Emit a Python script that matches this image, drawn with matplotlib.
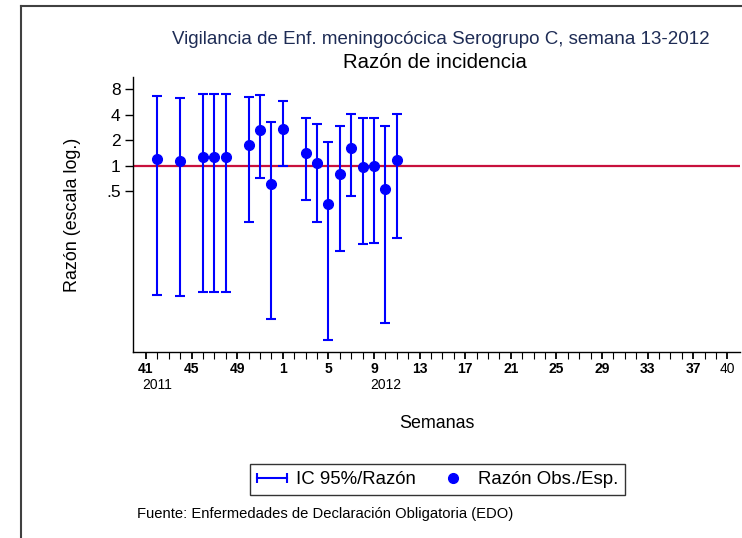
import matplotlib
matplotlib.use("Agg")
import matplotlib.pyplot as plt
from matplotlib.lines import Line2D
from matplotlib.legend_handler import HandlerLine2D

plt.rcParams["font.family"] = ["Liberation Sans", "DejaVu Sans"]

# week axis: 2011 weeks 41-52 followed by 2012 weeks 1-40
axis_weeks = list(range(41, 53)) + list(range(1, 41))
axis_years = [2011] * 12 + [2012] * 40

# observed / expected ratio with 95% CI, by week
obs_weeks = [42, 44, 46, 47, 48, 50, 51, 52, 1, 3, 4, 5, 6, 7, 8, 9, 10, 11]
obs_years = [2011] * 8 + [2012] * 10
ratio = [1.19, 1.14, 1.26, 1.26, 1.26, 1.77, 2.64, 0.60, 2.71,
         1.42, 1.06, 0.35, 0.80, 1.60, 0.97, 0.98, 0.53, 1.15]
ci_upper = [6.7, 6.3, 6.96, 6.96, 6.96, 6.5, 6.8, 3.3, 5.8,
            3.6, 3.1, 1.92, 2.92, 4.1, 3.6, 3.6, 2.97, 4.1]
ci_lower = [0.030, 0.029, 0.032, 0.032, 0.032, 0.218, 0.72, 0.0154, 0.98,
            0.39, 0.218, 0.0088, 0.099, 0.44, 0.12, 0.122, 0.0137, 0.138]

tick_weeks = [41, 45, 49, 1, 5, 9, 13, 17, 21, 25, 29, 33, 37]
tick_years = [2011, 2011, 2011, 2012, 2012, 2012, 2012, 2012, 2012, 2012, 2012, 2012, 2012]

keys = list(zip(axis_years, axis_weeks))
x = [keys.index(k) for k in zip(obs_years, obs_weeks)]
yerr = [[r - lo for r, lo in zip(ratio, ci_lower)],
        [hi - r for r, hi in zip(ratio, ci_upper)]]

fig = plt.figure(figsize=(7.42, 5.38), dpi=100)
ax = fig.add_axes([133 / 742, 1 - 352 / 538, 607 / 742, 275 / 538])

# outer frame (left and top edges visible)
fig.add_artist(Line2D([21 / 742, 21 / 742], [0, 1 - 6 / 538], transform=fig.transFigure,
                      color="#404040", lw=1.5))
fig.add_artist(Line2D([21 / 742, 1], [1 - 6 / 538, 1 - 6 / 538], transform=fig.transFigure,
                      color="#404040", lw=1.5))

ax.axhline(1, color="#c8103c", lw=1.6, zorder=1)
ax.errorbar(x, ratio, yerr=yerr, fmt="none", ecolor="blue", elinewidth=1.5,
            capsize=3.4, capthick=1.5, zorder=2)
ax.plot(x, ratio, "o", color="blue", markersize=7, zorder=3)

ax.set_yscale("log")
ax.set_ylim(0.0063, 11.1)
ax.set_yticks([0.5, 1, 2, 4, 8])
ax.set_yticklabels([".5", "1", "2", "4", "8"], fontsize=12.5)
ax.yaxis.set_minor_locator(plt.NullLocator())

ax.set_xlim(-1.14, 52.1)
ax.set_xticks(range(len(axis_weeks)), minor=True)
major_pos = [keys.index(k) for k in zip(tick_years, tick_weeks)] + [len(axis_weeks) - 1]
ax.set_xticks(major_pos)
ax.set_xticklabels([str(w) for w in tick_weeks] + ["40"], fontsize=10, fontweight="bold")
ax.get_xticklabels()[-1].set_fontweight("normal")
ax.tick_params(axis="x", which="both", length=5, width=0.8, direction="out", pad=2)
ax.tick_params(axis="x", which="major", width=1.3)
ax.tick_params(axis="y", length=6, width=1.0, pad=3)

for yr in (2011, 2012):
    pos = keys.index((yr, 42 if yr == 2011 else 10))
    ax.text(pos, -0.12, str(yr), transform=ax.get_xaxis_transform(),
            ha="center", va="center", fontsize=10)

for s in ("top", "right"):
    ax.spines[s].set_visible(False)
ax.spines["left"].set_linewidth(1.0)
ax.spines["bottom"].set_linewidth(1.0)

ax.set_ylabel("Razón (escala log.)", fontsize=12.9)
ax.yaxis.set_label_coords(-0.085, 0.5)
ax.set_xlabel("Semanas", fontsize=12.9)
ax.xaxis.set_label_coords(0.5, -0.229)

fig.text(441 / 742, 1 - 40 / 538, "Vigilancia de Enf. meningocócica Serogrupo C, semana 13-2012",
         ha="center", va="center", fontsize=13.5, color="#1e2c55")
fig.text(435 / 742, 1 - 63 / 538, "Razón de incidencia", ha="center", va="center", fontsize=14.7)

ci_handle = Line2D([], [], color="blue", lw=1.5, marker="|", markersize=7, markeredgewidth=1.5)
pt_handle = Line2D([], [], color="blue", ls="none", marker="o", markersize=7)
leg = fig.legend([ci_handle, pt_handle], ["IC 95%/Razón", "Razón Obs./Esp."],
                 loc="center", bbox_to_anchor=(437.5 / 742, 1 - 479.5 / 538), ncol=2,
                 fontsize=13.4, frameon=True, fancybox=False, borderpad=0.4,
                 borderaxespad=0, handlelength=1.6, handletextpad=0.5, columnspacing=1.2,
                 handler_map={ci_handle: HandlerLine2D(numpoints=2, marker_pad=0.0),
                              pt_handle: HandlerLine2D(numpoints=1)})
leg.get_frame().set_edgecolor("black")
leg.get_frame().set_linewidth(1.0)

fig.text(137 / 742, 1 - 514 / 538, "Fuente: Enfermedades de Declaración Obligatoria (EDO)",
         ha="left", va="center", fontsize=10.6)

plt.savefig("out.png", dpi=100)
